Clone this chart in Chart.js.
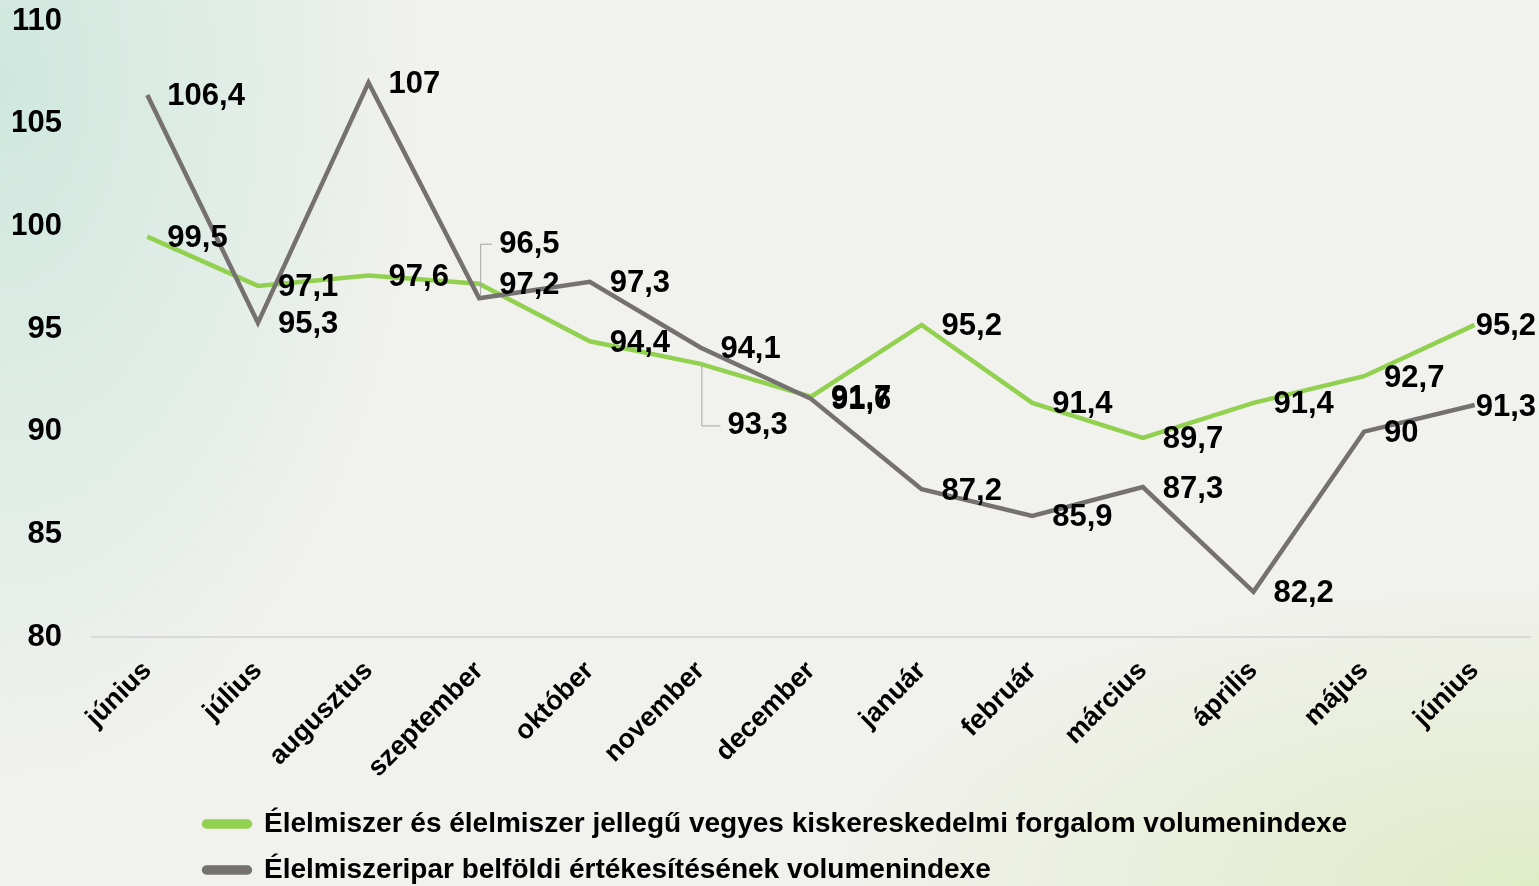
<!DOCTYPE html>
<html>
<head>
<meta charset="utf-8">
<script src="https://cdn.jsdelivr.net/npm/chart.js@4.4.1/dist/chart.umd.min.js"></script>
<style>
    html, body { margin: 0; padding: 0; }
    body {
        width: 1539px; height: 886px; overflow: hidden;
        background:
            radial-gradient(ellipse 420px 700px at 0px 80px, rgba(200, 230, 220, 0.85), rgba(200, 230, 220, 0) 100%),
            radial-gradient(ellipse 700px 300px at 1539px 886px, rgba(222, 235, 195, 0.9), rgba(222, 235, 195, 0) 100%),
            #f1f1ed;
    }
    #wrap { position: relative; width: 1539px; height: 886px; }
</style>
</head>
<body>
<div id="wrap"><canvas id="chart"></canvas></div>
<script>
    // categories (months, June to June)
    var months = ['június', 'július', 'augusztus', 'szeptember', 'október', 'november', 'december',
        'január', 'február', 'március', 'április', 'május', 'június'];

    // food retail volume index
    var retailValues = [99.5, 97.1, 97.6, 97.2, 94.4, 93.3, 91.7, 95.2, 91.4, 89.7, 91.4, 92.7, 95.2];

    // food industry domestic sales volume index
    var industryValues = [106.4, 95.3, 107, 96.5, 97.3, 94.1, 91.6, 87.2, 85.9, 87.3, 82.2, 90, 91.3];

    var seriesNames = [
        'Élelmiszer és élelmiszer jellegű vegyes kiskereskedelmi forgalom volumenindexe',
        'Élelmiszeripar belföldi értékesítésének volumenindexe'
    ];

    var fontFamily = "'Liberation Sans', Arial, sans-serif";

    // labels moved away from their point with a leader line: dataset -> index -> pixel shift
    var leaderShift = { 0: { 5: { dx: 27, dy: 60 } }, 1: { 3: { dx: 20, dy: -56 } } };

    // data labels drawn right of the point, in hungarian decimal format
    var dataLabelPlugin = {
        id: 'dataLabels',
        afterDatasetsDraw: function (chart) {
            var ctx = chart.ctx;
            ctx.save();
            ctx.font = 'bold 31px ' + fontFamily;
            ctx.textBaseline = 'middle';
            ctx.textAlign = 'left';
            chart.data.datasets.forEach(function (ds, di) {
                var meta = chart.getDatasetMeta(di);
                meta.data.forEach(function (pt, i) {
                    var txt = String(ds.data[i]).replace('.', ',');
                    var w = ctx.measureText(txt).width;
                    var shift = leaderShift[di] && leaderShift[di][i];
                    var x = Math.min(pt.x + 20, chart.width - w - 3);
                    var y = pt.y + 2;
                    if (shift) {
                        // leader line: vertical from the point, then a short step to the text
                        y += shift.dy;
                        x = pt.x + shift.dx;
                        ctx.strokeStyle = '#a6a6a6';
                        ctx.lineWidth = 1;
                        ctx.beginPath();
                        ctx.moveTo(pt.x + 1.5, pt.y + (shift.dy > 0 ? 2 : -2));
                        ctx.lineTo(pt.x + 1.5, y);
                        ctx.lineTo(x - 7, y);
                        ctx.stroke();
                    }
                    ctx.fillStyle = '#000000';
                    ctx.fillText(txt, x, y);
                });
            });
            ctx.restore();
        }
    };

    // put the wrapped legend rows on one left edge, like the reference
    var legendPlacePlugin = {
        id: 'legendPlace',
        beforeDraw: function (chart) {
            var lg = chart.legend;
            if (!lg) return;
            lg.left = 186;
            lg.top = 792;
        }
    };

    var config = {
        type: 'line',
        data: {
            labels: months,
            datasets: [{
                label: seriesNames[0],
                data: retailValues,
                borderColor: '#92d050',
                backgroundColor: '#92d050',
                borderWidth: 4.5,
                pointRadius: 0,
                tension: 0,
                order: 1
            }, {
                label: seriesNames[1],
                data: industryValues,
                borderColor: '#767171',
                backgroundColor: '#767171',
                borderWidth: 4.5,
                pointRadius: 0,
                tension: 0,
                order: 0
            }]
        },
        options: {
            responsive: false,
            animation: false,
            layout: { padding: { left: 13, right: 9, top: 0, bottom: -10 } },
            scales: {
                x: {
                    offset: true,
                    grid: { display: false },
                    border: { display: true, color: '#d9d9d9', width: 2 },
                    ticks: {
                        autoSkip: false,
                        maxRotation: 45,
                        minRotation: 45,
                        padding: 10,
                        color: '#000000',
                        font: { family: fontFamily, size: 27, weight: 'bold' }
                    },
                    afterFit: function (scale) {
                        // let the first rotated label hang under the y axis
                        scale.paddingLeft = 0;
                        scale.paddingRight = 0;
                    }
                },
                y: {
                    min: 80,
                    max: 110,
                    grid: { display: false, drawTicks: false },
                    border: { display: false },
                    ticks: {
                        stepSize: 5,
                        padding: 30,
                        color: '#000000',
                        font: { family: fontFamily, size: 31, weight: 'bold' }
                    },
                    afterFit: function (scale) {
                        scale.width = 79;
                        scale.paddingTop = 21;
                        scale.paddingBottom = 0;
                    }
                }
            },
            plugins: {
                tooltip: { enabled: false },
                legend: {
                    display: true,
                    position: 'bottom',
                    align: 'start',
                    labels: {
                        sort: function (a, b) { return a.datasetIndex - b.datasetIndex; },
                        boxWidth: 46,
                        boxHeight: 5,
                        useBorderRadius: true,
                        borderRadius: 2.5,
                        padding: 18,
                        color: '#000000',
                        font: { family: fontFamily, size: 28, weight: 'bold' }
                    }
                }
            }
        },
        plugins: [dataLabelPlugin, legendPlacePlugin]
    };

    var canvas = document.getElementById('chart');
    canvas.width = 1539;
    canvas.height = 886;
    new Chart(canvas.getContext('2d'), config);
</script>
</body>
</html>
